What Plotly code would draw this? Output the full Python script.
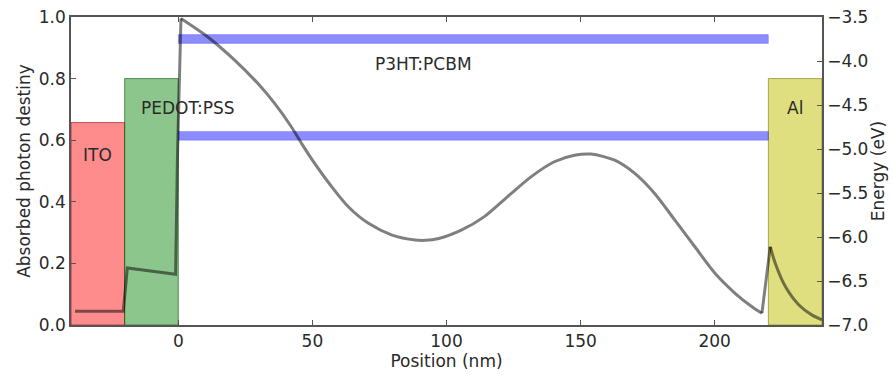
import plotly.graph_objects as go

# ---------------- data ----------------
# absorbed photon density profile (left axis)
pos_nm = [-38.5, -20.5, -19, -10, -1, -0.3, 1.0, 11.0, 21.0, 29.7, 36.0, 42.2, 46.0, 50.9,
          57.2, 63.4, 70.9, 79.7, 88.4, 92.0, 97.1, 105.5, 114.0, 122.7, 131.5, 140.2, 147.7,
          153.9, 162.7, 170.2, 177.6, 185.1, 192.6, 200.1, 207.6, 213.9, 217.6, 220.7, 222.6,
          226.4, 231.4, 236.3, 240.0]
absorbed = [0.045, 0.045, 0.185, 0.176, 0.165, 0.55, 0.995, 0.935, 0.860, 0.784, 0.719, 0.643,
            0.589, 0.524, 0.449, 0.384, 0.330, 0.292, 0.276, 0.275, 0.281, 0.308, 0.351, 0.416,
            0.481, 0.530, 0.551, 0.555, 0.535, 0.492, 0.427, 0.341, 0.254, 0.168, 0.103, 0.059,
            0.038, 0.254, 0.200, 0.124, 0.065, 0.032, 0.017]

# device layers: name, x start, x end, top energy (eV)
layer_names = ["ITO", "PEDOT:PSS", "Al"]
layer_x0 = [-40, -20, 220]
layer_x1 = [-20, 0, 240]
layer_top_eV = [-4.7, -4.2, -4.2]
layer_fill = ["rgba(255,0,0,0.45)", "rgba(0,128,0,0.45)", "rgba(191,191,0,0.5)"]
layer_edge = ["rgba(150,0,0,0.6)", "rgba(0,90,0,0.6)", "rgba(120,120,0,0.6)"]

# P3HT:PCBM energy bands (eV)
band_x = [0, 220]
band_low_eV = [-3.8, -4.9]
band_high_eV = [-3.7, -4.8]

energy_min, energy_max = -7.0, -3.5
energy_ticks = [-3.5, -4.0, -4.5, -5.0, -5.5, -6.0, -6.5, -7.0]
energy_ticktext = ["\u22123.5", "\u22124.0", "\u22124.5", "\u22125.0", "\u22125.5",
                   "\u22126.0", "\u22126.5", "\u22127.0"]
density_ticks = [0.0, 0.2, 0.4, 0.6, 0.8, 1.0]
density_ticktext = ["0.0", "0.2", "0.4", "0.6", "0.8", "1.0"]
x_ticks = [0, 50, 100, 150, 200]

FONT = "DejaVu Sans"
TXT = "#2a2a2a"
FS = 17

fig = go.Figure()

# layers (energy axis 'y', on right)
for name, x0, x1, top, fc, ec in zip(layer_names, layer_x0, layer_x1, layer_top_eV, layer_fill, layer_edge):
    fig.add_trace(go.Scatter(
        x=[x0, x0, x1, x1, x0], y=[energy_min, top, top, energy_min, energy_min],
        mode="lines", fill="toself", fillcolor=fc, line=dict(color=ec, width=1),
        yaxis="y", showlegend=False, hoverinfo="skip"))

# bands
for lo, hi in zip(band_low_eV, band_high_eV):
    fig.add_trace(go.Scatter(
        x=[band_x[0], band_x[0], band_x[1], band_x[1], band_x[0]], y=[lo, hi, hi, lo, lo],
        mode="lines", fill="toself", fillcolor="rgba(0,0,255,0.45)",
        line=dict(color="rgba(0,0,255,0.2)", width=1),
        yaxis="y", showlegend=False, hoverinfo="skip"))

# absorbed photon density curve (left axis 'y2', overlaying -> drawn on top)
# drawn piecewise: straight pieces at the layer interfaces, smooth pieces inside layers
pieces = [(0, 6, "linear"), (6, 36, "spline"), (36, 37, "linear"), (37, 42, "spline")]
for i0, i1, shp in pieces:
    fig.add_trace(go.Scatter(x=pos_nm[i0:i1 + 1], y=absorbed[i0:i1 + 1], mode="lines",
                             line=dict(color="rgba(0,0,0,0.5)", width=3, shape=shp,
                                       **({"smoothing": 0.8} if shp == "spline" else {})),
                             yaxis="y2", showlegend=False))

ann = [
    dict(text="ITO", x=-30, y=-5.07, xanchor="center"),
    dict(text="PEDOT:PSS", x=-14.6, y=-4.53, xanchor="left"),
    dict(text="Al", x=230, y=-4.53, xanchor="center"),
    dict(text="P3HT:PCBM", x=91.4, y=-4.03, xanchor="center"),
]
for a in ann:
    fig.add_annotation(text=a["text"], x=a["x"], y=a["y"], xref="x", yref="y",
                       xanchor=a["xanchor"], yanchor="middle", showarrow=False,
                       font=dict(family=FONT, size=FS, color=TXT))

axis_common = dict(showgrid=False, zeroline=False, showline=True, linecolor="#555555",
                   linewidth=1.5, ticks="inside", ticklen=5, tickcolor="#555555",
                   tickfont=dict(family=FONT, size=FS, color=TXT))

fig.update_layout(
    width=893, height=376,
    margin=dict(l=71, r=71, t=17, b=51, autoexpand=False),
    paper_bgcolor="white", plot_bgcolor="white",
    xaxis=dict(range=[-40, 240], tickvals=x_ticks, mirror="ticks",
               title=dict(text="Position (nm)", font=dict(family=FONT, size=FS, color=TXT), standoff=2),
               **axis_common),
    yaxis=dict(range=[energy_min, energy_max], side="right", tickvals=energy_ticks,
               ticktext=energy_ticktext,
               title=dict(text="Energy (eV)", font=dict(family=FONT, size=FS, color=TXT), standoff=4),
               **axis_common),
    yaxis2=dict(range=[0, 1], side="left", overlaying="y", tickvals=density_ticks,
                ticktext=density_ticktext,
                title=dict(text="Absorbed photon destiny", font=dict(family=FONT, size=FS, color=TXT), standoff=4),
                **axis_common),
)

fig.write_html("out.html", config={"displayModeBar": False},
               post_script="document.body.style.margin='0px';")
